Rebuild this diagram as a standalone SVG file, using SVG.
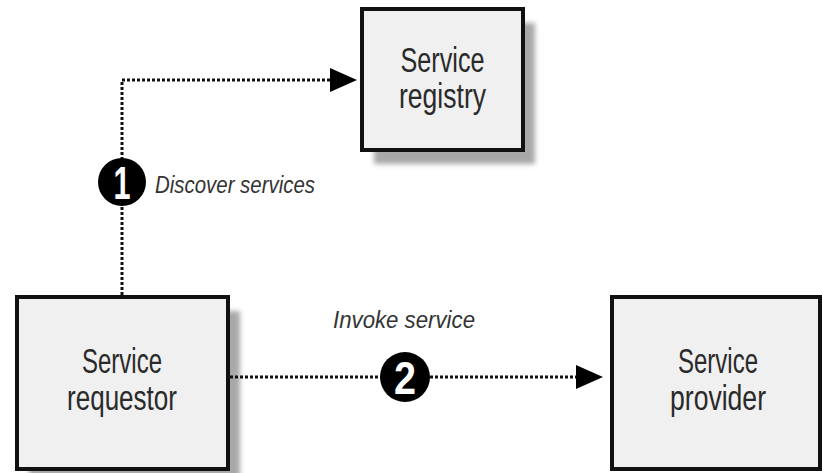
<svg xmlns="http://www.w3.org/2000/svg" width="822" height="473" viewBox="0 0 822 473">
  <style>
    .box { fill: #f0f0f0; stroke: #111; stroke-width: 4; }
    .shadow { fill: #a8a8a8; filter: url(#blur); }
    .lbl { font-family: "Liberation Sans", Arial, sans-serif; font-size: 35px; fill: #2a2a2a; text-anchor: middle; }
    .note { font-family: "Liberation Sans", Arial, sans-serif; font-size: 23px; font-style: italic; fill: #333; }
    .conn { fill: none; stroke: #111; stroke-width: 3; stroke-dasharray: 3 2; }
    .badge { fill: #000; }
    .num { font-family: "Liberation Sans", Arial, sans-serif; font-weight: bold; font-size: 46px; fill: #fff; text-anchor: middle; }
  </style>
  <defs>
    <filter id="blur" x="-10%" y="-10%" width="120%" height="120%">
      <feGaussianBlur stdDeviation="2.5"/>
    </filter>
    <marker id="arrow" markerUnits="userSpaceOnUse" markerWidth="28" markerHeight="26" refX="27" refY="12" orient="auto">
      <polygon points="0,0 27,12 0,24" fill="#000"/>
    </marker>
  </defs>
  <rect width="822" height="473" fill="#fff"/>

  <g id="registry">
    <rect class="shadow" x="374" y="23" width="161" height="141"/>
    <rect class="box" x="362" y="9" width="161" height="141"/>
    <text class="lbl" x="442.5" y="72" textLength="84" lengthAdjust="spacingAndGlyphs">Service</text>
    <text class="lbl" x="442.5" y="108" textLength="87" lengthAdjust="spacingAndGlyphs">registry</text>
  </g>

  <g id="requestor">
    <rect class="shadow" x="29" y="311" width="211" height="172"/>
    <rect class="box" x="17" y="297" width="211" height="172"/>
    <text class="lbl" x="122" y="373" textLength="80" lengthAdjust="spacingAndGlyphs">Service</text>
    <text class="lbl" x="122" y="410" textLength="110" lengthAdjust="spacingAndGlyphs">requestor</text>
  </g>

  <g id="provider">
    <rect class="box" x="612" y="297" width="208" height="172"/>
    <text class="lbl" x="718" y="373" textLength="80" lengthAdjust="spacingAndGlyphs">Service</text>
    <text class="lbl" x="718" y="410" textLength="96" lengthAdjust="spacingAndGlyphs">provider</text>
  </g>

  <g id="connectors">
    <polyline class="conn" points="122,295 122,80 331,80"/>
    <path d="M329,80 L357,80" stroke="none" fill="none" marker-end="url(#arrow)"/>
    <line class="conn" x1="230" y1="377" x2="577" y2="377"/>
    <path d="M575,377 L603,377" stroke="none" fill="none" marker-end="url(#arrow)"/>
  </g>

  <g id="step1">
    <circle class="badge" cx="122" cy="182" r="24"/>
    <text class="num" x="122" y="199" textLength="17" lengthAdjust="spacingAndGlyphs">1</text>
    <text class="note" x="155" y="193" textLength="160" lengthAdjust="spacingAndGlyphs">Discover services</text>
  </g>

  <g id="step2">
    <circle class="badge" cx="405" cy="377" r="25"/>
    <text class="num" x="405" y="394" textLength="22" lengthAdjust="spacingAndGlyphs">2</text>
    <text class="note" x="333" y="328" textLength="142" lengthAdjust="spacingAndGlyphs">Invoke service</text>
  </g>
</svg>
